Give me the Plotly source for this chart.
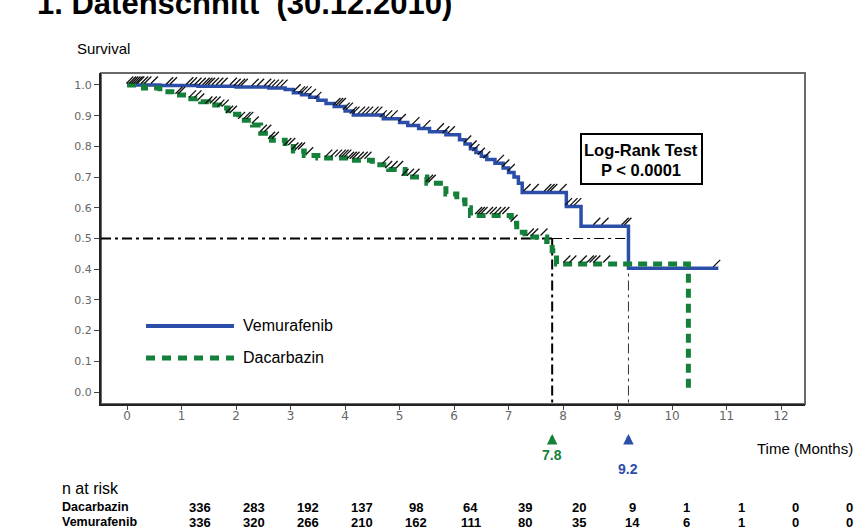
import numpy as np
import plotly.graph_objects as go

# ---------------- data ----------------
months = list(range(0, 13))
y_ticks = [0.0, 0.1, 0.2, 0.3, 0.4, 0.5, 0.6, 0.7, 0.8, 0.9, 1.0]

vem_t = [0, 0.6, 1.3, 2.0, 2.6, 2.9, 3.05, 3.2, 3.35, 3.5, 3.65, 3.8, 4.0, 4.15, 4.7, 5.0,
         5.15, 5.35, 5.55, 5.85, 6.1, 6.2, 6.3, 6.4, 6.5, 6.6, 6.75, 6.9, 7.0, 7.1, 7.18,
         7.25, 8.06, 8.33, 9.2, 10.85]
vem_s = [1.0, 0.998, 0.996, 0.993, 0.99, 0.985, 0.975, 0.968, 0.96, 0.95, 0.94, 0.93, 0.915,
         0.902, 0.89, 0.878, 0.868, 0.858, 0.848, 0.838, 0.822, 0.808, 0.792, 0.78, 0.768,
         0.757, 0.745, 0.73, 0.715, 0.70, 0.68, 0.65, 0.604, 0.54, 0.403, 0.403]

dac_t = [0, 0.3, 0.6, 0.9, 1.1, 1.35, 1.5, 1.7, 1.85, 2.05, 2.3, 2.45, 2.65, 2.9, 3.05, 3.25,
         3.5, 4.1, 4.5, 4.8, 5.1, 5.5, 5.85, 6.05, 6.2, 6.3, 7.05, 7.15, 7.3, 7.7, 7.8,
         7.88, 10.3]
dac_s = [1.0, 0.99, 0.978, 0.967, 0.955, 0.945, 0.935, 0.925, 0.905, 0.885, 0.87, 0.843, 0.82,
         0.80, 0.785, 0.77, 0.762, 0.755, 0.74, 0.725, 0.70, 0.68, 0.645, 0.625, 0.60, 0.575,
         0.55, 0.52, 0.505, 0.49, 0.46, 0.417, 0.0]

vem_censor = [0.05, 0.1, 0.14, 0.18, 0.22, 0.25, 0.32, 0.38, 0.5, 0.78, 0.85, 1.15, 1.22, 1.3,
              1.38, 1.45, 1.5, 1.55, 1.62, 1.7, 1.78, 1.95, 2.02, 2.1, 2.15, 2.35, 2.45, 2.58,
              2.65, 2.72, 2.8, 2.88, 3.12, 3.2, 3.25, 3.32, 3.4, 3.5, 3.85, 3.9, 3.95, 4.02,
              4.08, 4.15, 4.2, 4.3, 4.38, 4.45, 4.55, 4.62, 4.7, 4.8, 4.9, 5.05, 5.3, 5.5,
              5.75, 5.85, 5.95, 6.25, 6.35, 6.4, 6.5, 6.6, 6.85, 6.95, 7.05, 7.34, 7.49, 7.72,
              7.78, 7.83, 8.0, 8.1, 8.2, 8.27, 8.62, 8.77, 9.14, 9.19, 10.82]
dac_censor = [0.95, 1.0, 1.2, 1.3, 1.35, 1.5, 1.58, 1.65, 1.72, 1.8, 1.88, 1.95, 2.1, 2.2, 2.25,
              2.35, 2.5, 2.58, 2.65, 2.72, 2.95, 3.02, 3.08, 3.15, 3.2, 3.35, 3.7, 3.8, 3.88,
              3.95, 4.0, 4.05, 4.1, 4.15, 4.2, 4.28, 4.35, 4.42, 4.75, 4.8, 4.9, 5.0, 5.1, 5.2,
              5.3, 5.55, 5.6, 6.45, 6.5, 6.55, 6.65, 6.72, 6.8, 6.88, 6.95, 7.1, 7.4, 7.48,
              7.65, 8.07, 8.18, 8.37, 8.5, 8.55, 8.62, 8.8]

median_dac = 7.8
median_vem = 9.2

risk_dac = [336, 283, 192, 137, 98, 64, 39, 20, 9, 1, 1, 0, 0]
risk_vem = [336, 320, 266, 210, 162, 111, 80, 35, 14, 6, 1, 0, 0]

title_text = "1. Datenschnitt  (30.12.2010)"
logrank_lines = ["Log-Rank Test", "P < 0.0001"]

# ---------------- styling ----------------
BLUE = "#2B4EA8"
GREEN = "#14803A"
GRAY = "#666666"
ARIAL = "Liberation Sans, Arial, sans-serif"

W, H = 855, 531
L, T, R, B = 101, 73, 805, 404   # plot-area pixel box
X_RANGE = [-0.48, 12.44]
Y_RANGE = [-0.039, 1.039]


def px(X):
    return (X - L) / (R - L)


def py(Y):
    return (B - Y) / (B - T)


def step_value(times, surv, t):
    i = np.searchsorted(np.asarray(times), t, side="right") - 1
    return np.asarray(surv)[i]


fig = go.Figure()

fig.add_trace(go.Scatter(x=vem_t, y=vem_s, mode="lines", line_shape="hv",
                         line=dict(color=BLUE, width=3.5), showlegend=False, hoverinfo="skip"))
fig.add_trace(go.Scatter(x=dac_t, y=dac_s, mode="lines", line_shape="hv",
                         line=dict(color=GREEN, width=5, dash="9px,6px"),
                         showlegend=False, hoverinfo="skip"))

vc = np.array(vem_censor)
dc = np.array(dac_censor)
for cens, tt, ss in [(vc, vem_t, vem_s), (dc, dac_t, dac_s)]:
    fig.add_trace(go.Scatter(x=cens, y=step_value(tt, ss, cens) + 0.016, mode="markers",
                             marker=dict(symbol="line-ne", size=7, color="black",
                                         line=dict(color="#111111", width=1.3)),
                             showlegend=False, hoverinfo="skip"))

DD = "10px,4px,3px,4px"
shapes = []
shapes.append(dict(type="rect", xref="paper", yref="paper", x0=0, x1=1, y0=0, y1=1,
                   line=dict(color="#6a6a6a", width=2), layer="below"))
shapes.append(dict(type="line", xref="x", yref="y", x0=X_RANGE[0], x1=median_dac, y0=0.5, y1=0.5,
                   line=dict(color="black", width=2.2, dash=DD), layer="below"))
shapes.append(dict(type="line", xref="x", yref="y", x0=median_dac, x1=median_vem, y0=0.5, y1=0.5,
                   line=dict(color="black", width=1, dash=DD), layer="below"))
shapes.append(dict(type="line", xref="x", yref="y", x0=median_dac, x1=median_dac, y0=0.5,
                   y1=Y_RANGE[0], line=dict(color="black", width=2, dash=DD), layer="below"))
shapes.append(dict(type="line", xref="x", yref="y", x0=median_vem, x1=median_vem, y0=0.5,
                   y1=Y_RANGE[0], line=dict(color="#333333", width=1, dash=DD), layer="below"))
shapes.append(dict(type="rect", xref="paper", yref="paper", x0=px(581), x1=px(702),
                   y0=py(184), y1=py(134), line=dict(color="black", width=2),
                   fillcolor="white", layer="above"))
shapes.append(dict(type="line", xref="paper", yref="paper", x0=px(146), x1=px(234),
                   y0=py(326), y1=py(326), line=dict(color=BLUE, width=4)))
shapes.append(dict(type="line", xref="paper", yref="paper", x0=px(146), x1=px(234),
                   y0=py(358), y1=py(358), line=dict(color=GREEN, width=5, dash="9px,7px")))

ann = []


def text(x, y, s, size, color="black", family=ARIAL, xanchor="left", yanchor="middle",
         xref="paper", bold=False, borderpad=1):
    ann.append(dict(x=x, y=y, xref=xref, yref="paper", text=(f"<b>{s}</b>" if bold else s),
                    showarrow=False, xanchor=xanchor, yanchor=yanchor, borderpad=borderpad,
                    font=dict(size=size, color=color, family=family)))


text(px(35), py(23), title_text, 31, yanchor="bottom", bold=True)
text(px(75), py(49), "Survival", 15)
text(px(755), py(448), "Time (Months)", 15)
text(px(641), py(160), logrank_lines[0], 16.5, xanchor="center", yanchor="bottom",
     bold=True, borderpad=0)
text(px(641), py(160), logrank_lines[1], 16.5, xanchor="center", yanchor="top",
     bold=True, borderpad=0)
text(px(241), py(325), "Vemurafenib", 16)
text(px(241), py(357), "Dacarbazin", 16)

for m, col, ylab in [(median_dac, GREEN, 455), (median_vem, BLUE, 469)]:
    ann.append(dict(x=m, y=py(434), xref="x", yref="paper", showarrow=True, ax=0, ay=11,
                    arrowhead=2, arrowsize=0.6, arrowwidth=3.5, arrowcolor=col, text=""))
    text(m, py(ylab), f"{m:.1f}", 14, color=col, xanchor="center", xref="x", bold=True)

text(px(60), py(488), "n at risk", 16)
text(px(60), py(507), "Dacarbazin", 12.5, bold=True)
text(px(60), py(522), "Vemurafenib", 12.5, bold=True)
for k, (d, v) in enumerate(zip(risk_dac, risk_vem)):
    xc = px(200 + 54.1 * k)
    text(xc, py(507), str(d), 13, xanchor="center", bold=True)
    text(xc, py(522), str(v), 13, xanchor="center", bold=True)

fig.update_layout(
    width=W, height=H,
    margin=dict(l=L, r=W - R, t=T, b=H - B, pad=0),
    paper_bgcolor="white", plot_bgcolor="white",
    shapes=shapes, annotations=ann, showlegend=False,
    xaxis=dict(range=X_RANGE, tickvals=months, ticktext=[str(m) for m in months],
               showgrid=False, zeroline=False, showline=True, linecolor="#222222",
               linewidth=2, ticks="outside", ticklen=4, tickcolor="#444444", tickwidth=1,
               ticklabelstandoff=-4,
               tickfont=dict(size=12, color=GRAY, family="DejaVu Sans, sans-serif")),
    yaxis=dict(range=Y_RANGE, tickvals=y_ticks, ticktext=[f"{v:.1f}" for v in y_ticks],
               showgrid=False, zeroline=False, showline=True, linecolor="#222222",
               linewidth=2, ticks="outside", ticklen=5, tickcolor="#444444", tickwidth=1,
               tickfont=dict(size=11, color=GRAY, family="DejaVu Sans, sans-serif")),
)

fig.write_html("out.html", config={"displayModeBar": False},
               post_script="document.body.style.margin='0';")
